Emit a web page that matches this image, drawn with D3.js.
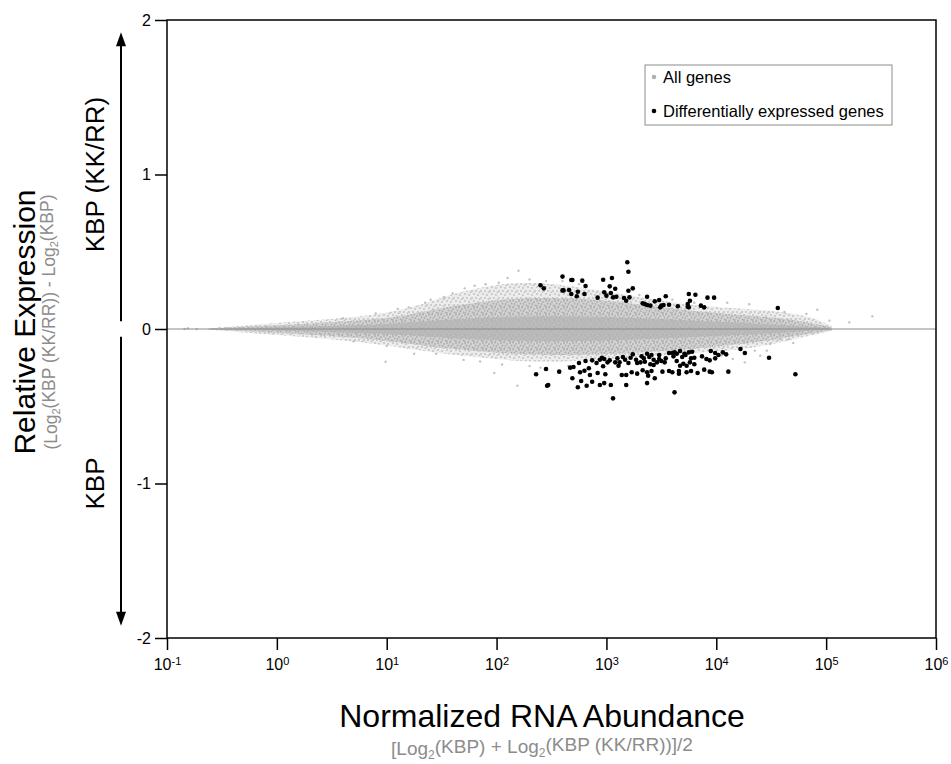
<!DOCTYPE html>
<html>
<head>
<meta charset="utf-8">
<script src="https://cdn.jsdelivr.net/npm/d3@7"></script>
<style>
  body { margin: 0; background: #fff; }
  svg { display: block; font-family: "Liberation Sans", Arial, sans-serif; }
</style>
</head>
<body>
<script>
// ---- data (x values are log10 of normalized abundance) ----
const xTickExp = [-1, 0, 1, 2, 3, 4, 5, 6];
const yTicks = [-2, -1, 0, 1, 2];

// outline of the grey "all genes" cloud
const cloudLog   = [-0.62, -0.34, 0.30, 0.76, 1.03, 1.30, 1.53, 1.85, 2.12, 2.49, 3.03, 3.49, 3.94, 4.40, 4.85, 5.05];
const outerTop   = [0.004, 0.020, 0.054, 0.082, 0.108, 0.151, 0.216, 0.270, 0.300, 0.300, 0.238, 0.183, 0.140, 0.129, 0.086, 0.020];
const outerBot   = [-0.004, -0.021, -0.054, -0.086, -0.108, -0.140, -0.162, -0.183, -0.205, -0.216, -0.194, -0.173, -0.151, -0.119, -0.043, -0.010];
const coreTop    = [0.003, 0.012, 0.035, 0.055, 0.072, 0.105, 0.140, 0.175, 0.195, 0.205, 0.185, 0.140, 0.105, 0.085, 0.045, 0.010];
const coreBot    = [-0.003, -0.012, -0.035, -0.058, -0.078, -0.105, -0.125, -0.145, -0.160, -0.170, -0.165, -0.145, -0.120, -0.085, -0.030, -0.010];
const innerTop   = [0.001, 0.006, 0.016, 0.026, 0.034, 0.046, 0.060, 0.072, 0.080, 0.085, 0.080, 0.065, 0.048, 0.036, 0.014, 0.002];
const innerBot   = [-0.001, -0.006, -0.016, -0.026, -0.034, -0.046, -0.058, -0.068, -0.076, -0.080, -0.076, -0.062, -0.046, -0.034, -0.012, -0.002];

// scattered grey genes around the dense cloud
const grayLog = [-0.84, -0.81, -0.73, -0.52, -0.47, -0.43, 0.99, 1.52, 1.71, 1.98, 2.20, 2.19, 4.15, 4.26, 4.40, 4.46, 4.49, 4.58, 4.66, 4.76, 4.82, 4.92, 5.03, 5.21, 5.42,
                 1.80, 2.02, 2.30, 2.45, 1.40, 1.10, 1.25, 1.70, 2.30, 4.10, 4.30, 4.62,
                 0.60, 0.90, 1.20, 1.35, 1.60, 1.90, 2.10, 2.60, 2.75, 3.30, 3.60, 3.80,
                 0.70, 1.00, 1.45, 1.85, 2.05, 2.40, 2.65, 4.05, 4.35, 4.70];
const grayRel = [0.0, 0.005, 0.0, 0.005, 0.006, 0.004, -0.212, 0.207, 0.263, -0.285, 0.377, -0.367, -0.194, -0.216, -0.173, -0.140, -0.097, -0.065, -0.065, 0.021, 0.097, 0.125, 0.054, 0.043, 0.082,
                 0.280, 0.300, 0.320, 0.310, 0.190, 0.130, -0.160, -0.200, -0.240, 0.170, 0.160, 0.110,
                 0.070, 0.100, 0.140, 0.170, 0.230, 0.290, 0.330, 0.310, 0.290, 0.220, 0.190, 0.170,
                 -0.080, -0.110, -0.160, -0.210, -0.230, -0.250, -0.240, -0.170, -0.140, -0.090];

// differentially expressed genes, up
const upLog = [3.19, 3.20, 2.60, 2.68, 2.69, 2.78, 2.81, 2.97, 3.05, 2.40,
               2.43, 2.60, 2.61, 2.66, 2.68, 2.74, 2.73, 2.80, 2.92, 2.98,
               3.00, 3.03, 3.04, 3.08, 3.06, 3.09, 3.20, 3.24, 3.16, 3.18,
               3.21, 3.37, 3.33, 3.35, 3.37, 3.40, 3.44, 3.48, 3.54, 3.50,
               3.49, 3.52, 3.57, 3.65, 3.75, 3.81, 3.76, 3.74, 3.74, 3.75,
               3.86, 3.89, 3.92, 3.98, 4.56];
const upRel = [0.432, 0.371, 0.339, 0.317, 0.317, 0.313, 0.278, 0.319, 0.330, 0.283,
               0.263, 0.250, 0.250, 0.252, 0.227, 0.241, 0.212, 0.227, 0.203, 0.238,
               0.216, 0.276, 0.233, 0.261, 0.205, 0.209, 0.248, 0.263, 0.201, 0.183,
               0.205, 0.209, 0.166, 0.162, 0.155, 0.151, 0.179, 0.188, 0.212, 0.151,
               0.140, 0.155, 0.157, 0.147, 0.227, 0.222, 0.183, 0.162, 0.144, 0.140,
               0.151, 0.140, 0.203, 0.203, 0.136];

// differentially expressed genes, down
const downLog = [2.36, 2.45, 2.46, 2.47, 2.57, 2.67, 2.70, 2.69, 2.75, 2.76,
                 2.77, 2.74, 2.80, 2.84, 2.85, 2.82, 2.87, 2.81, 2.87, 2.91,
                 2.94, 2.92, 2.96, 2.98, 3.01, 3.03, 2.97, 2.94, 2.98, 3.04,
                 2.99, 3.06, 3.08, 3.10, 3.12, 3.15, 3.17, 3.11, 3.20, 3.22,
                 3.24, 3.27, 3.28, 3.14, 3.18, 3.18, 3.23, 3.28, 3.32, 3.34,
                 3.31, 3.35, 3.37, 3.39, 3.41, 3.43, 3.40, 3.43, 3.46, 3.48,
                 3.48, 3.50, 3.53, 3.54, 3.57, 3.60, 3.62, 3.61, 3.64, 3.67,
                 3.71, 3.69, 3.72, 3.75, 3.78, 3.77, 3.80, 3.76, 3.70, 3.67,
                 3.64, 3.73, 3.80, 3.87, 3.91, 3.95, 3.99, 4.02, 4.06, 4.09,
                 3.99, 3.94, 4.22, 4.26, 4.48, 3.33, 3.37, 3.41, 3.38, 3.44,
                 3.37, 3.51, 3.57, 3.60, 3.66, 3.66, 3.73, 3.77, 3.83, 3.89,
                 3.94, 3.96, 4.11, 3.62, 4.72];
const downRel = [-0.293, -0.259, -0.367, -0.362, -0.276, -0.250, -0.246, -0.319, -0.220, -0.280,
                 -0.337, -0.377, -0.270, -0.254, -0.298, -0.367, -0.341, -0.207, -0.203, -0.220,
                 -0.199, -0.285, -0.186, -0.194, -0.216, -0.203, -0.241, -0.362, -0.350, -0.362,
                 -0.293, -0.449, -0.216, -0.190, -0.216, -0.181, -0.199, -0.238, -0.220, -0.186,
                 -0.164, -0.199, -0.220, -0.298, -0.298, -0.362, -0.280, -0.289, -0.177, -0.190,
                 -0.216, -0.212, -0.160, -0.181, -0.168, -0.199, -0.228, -0.233, -0.216, -0.168,
                 -0.194, -0.207, -0.216, -0.190, -0.155, -0.155, -0.151, -0.177, -0.160, -0.142,
                 -0.160, -0.181, -0.168, -0.151, -0.147, -0.190, -0.186, -0.216, -0.225, -0.238,
                 -0.207, -0.238, -0.228, -0.177, -0.194, -0.142, -0.155, -0.168, -0.151, -0.164,
                 -0.190, -0.203, -0.129, -0.155, -0.186, -0.267, -0.280, -0.272, -0.302, -0.319,
                 -0.350, -0.276, -0.272, -0.280, -0.272, -0.289, -0.280, -0.272, -0.285, -0.263,
                 -0.276, -0.280, -0.276, -0.410, -0.293];

const legendItems = ["All genes", "Differentially expressed genes"];

// ---- layout ----
var margin = { top: 20, right: 15, bottom: 126, left: 167 },
    width = 951 - margin.left - margin.right,
    height = 764 - margin.top - margin.bottom;

var svgRoot = d3.select("body").append("svg")
    .attr("width", 951)
    .attr("height", 764);

// speckle textures for the grey cloud
var defs = svgRoot.append("defs");
function speckle(id, bg, dot, spots) {
    const p = defs.append("pattern").attr("id", id)
        .attr("patternUnits", "userSpaceOnUse")
        .attr("width", 9).attr("height", 7);
    if (bg) p.append("rect").attr("width", 9).attr("height", 7).attr("fill", bg);
    spots.forEach(s => p.append("circle").attr("cx", s[0]).attr("cy", s[1]).attr("r", 0.9).attr("fill", dot));
}
speckle("speckLight", null, "#bdbdbd", [[1, 1], [5, 2], [8, 5], [3, 5], [6.5, 6.5]]);
speckle("speckDense", "#d3d3d3", "#acacac", [[1, 1], [4, 0.5], [7, 2], [2.5, 3.5], [5.5, 4], [8.5, 5.5], [1, 6], [4.5, 6.5]]);

var svg = svgRoot.append("g")
    .attr("transform", "translate(" + margin.left + "," + margin.top + ")");

// scales
var x = d3.scaleLog().domain([0.1, 1e6]).range([0, width]);
var y = d3.scaleLinear().domain([-2, 2]).range([height, 0]);
const ax = v => x(Math.pow(10, v));

// clip to plot
svg.append("clipPath").attr("id", "plotClip")
    .append("rect").attr("width", width).attr("height", height);
var plot = svg.append("g").attr("clip-path", "url(#plotClip)");

// grey cloud as stacked envelopes
function band(top, bot, fill, op) {
    const rows = cloudLog.map((v, i) => ({ lx: v, t: top[i], b: bot[i] }));
    plot.append("path")
        .datum(rows)
        .attr("fill", fill)
        .attr("opacity", op)
        .attr("d", d3.area()
            .curve(d3.curveBasis)
            .x(d => ax(d.lx))
            .y0(d => y(d.b))
            .y1(d => y(d.t)));
}
band(outerTop, outerBot, "#ececec", 1);
band(outerTop, outerBot, "url(#speckLight)", 1);
band(coreTop, coreBot, "url(#speckDense)", 1);
band(innerTop, innerBot, "#b4b4b4", 0.75);

// scattered grey points
plot.selectAll(".gray")
    .data(grayLog.map((v, i) => ({ lx: v, r: grayRel[i] })))
    .enter().append("circle")
    .attr("cx", d => ax(d.lx))
    .attr("cy", d => y(d.r))
    .attr("r", 1.2)
    .attr("fill", "#c2c2c2");

// zero line
plot.append("line")
    .attr("x1", 0).attr("x2", width)
    .attr("y1", y(0)).attr("y2", y(0))
    .attr("stroke", "#8a8a8a")
    .attr("stroke-width", 1);

// differentially expressed genes
const deRows = upLog.map((v, i) => ({ lx: v, r: upRel[i] }))
    .concat(downLog.map((v, i) => ({ lx: v, r: downRel[i] })));
plot.selectAll(".de")
    .data(deRows)
    .enter().append("circle")
    .attr("cx", d => ax(d.lx))
    .attr("cy", d => y(d.r))
    .attr("r", 2.3)
    .attr("fill", "#000");

// frame
svg.append("rect")
    .attr("width", width).attr("height", height)
    .attr("fill", "none")
    .attr("stroke", "#000")
    .attr("stroke-width", 1.5);

// X axis
var gx = svg.append("g")
    .attr("transform", "translate(0," + height + ")")
    .call(d3.axisBottom(x)
        .tickValues(xTickExp.map(e => Math.pow(10, e)))
        .tickSize(12).tickSizeOuter(0).tickPadding(9)
        .tickFormat(() => ""));
gx.select(".domain").remove();
gx.selectAll(".tick line").attr("stroke-width", 1.5);
gx.selectAll(".tick text")
    .style("font-size", "16px")
    .attr("fill", "#000")
    .each(function(d, i) {
        const t = d3.select(this);
        t.append("tspan").text("10");
        t.append("tspan").attr("dy", "-0.45em").style("font-size", "11px").text(xTickExp[i]);
    });

// Y axis
var gy = svg.append("g")
    .call(d3.axisLeft(y)
        .tickValues(yTicks)
        .tickSize(12).tickSizeOuter(0).tickPadding(4)
        .tickFormat(d => String(d)));
gy.select(".domain").remove();
gy.selectAll(".tick line").attr("stroke-width", 1.5);
gy.selectAll(".tick text").style("font-size", "16px").attr("fill", "#000");

// direction arrows at left
const arrowX = -46;
const arrowTipUp = 1.92, arrowTipDown = -1.92, gapHalf = 0.05;
function arrow(fromV, toV) {
    const y0 = y(fromV), y1 = y(toV);
    const dir = y1 < y0 ? -1 : 1;
    svg.append("line")
        .attr("x1", arrowX).attr("x2", arrowX)
        .attr("y1", y0).attr("y2", y1 - dir * 10)
        .attr("stroke", "#000").attr("stroke-width", 2);
    svg.append("path")
        .attr("d", `M${arrowX},${y1} L${arrowX - 5},${y1 - dir * 14} L${arrowX + 5},${y1 - dir * 14} Z`)
        .attr("fill", "#000");
}
arrow(gapHalf, arrowTipUp);
arrow(-gapHalf, arrowTipDown);

svg.append("text")
    .attr("transform", `translate(${arrowX - 17},${y(1)}) rotate(-90)`)
    .attr("text-anchor", "middle")
    .style("font-size", "26px")
    .text("KBP (KK/RR)");
svg.append("text")
    .attr("transform", `translate(${arrowX - 17},${y(-1)}) rotate(-90)`)
    .attr("text-anchor", "middle")
    .style("font-size", "26px")
    .text("KBP");

// Y title
svg.append("text")
    .attr("transform", `translate(${35 - margin.left},${322 - margin.top}) rotate(-90)`)
    .attr("text-anchor", "middle")
    .style("font-size", "30px")
    .text("Relative Expression");
var ysub = svg.append("text")
    .attr("transform", `translate(${57 - margin.left},${322 - margin.top}) rotate(-90)`)
    .attr("text-anchor", "middle")
    .attr("fill", "#8c8c8c")
    .style("font-size", "17.5px");
ysub.append("tspan").text("(Log");
ysub.append("tspan").attr("dy", "0.3em").style("font-size", "11px").text("2");
ysub.append("tspan").attr("dy", "-0.3em").text("(KBP (KK/RR)) - Log");
ysub.append("tspan").attr("dy", "0.3em").style("font-size", "11px").text("2");
ysub.append("tspan").attr("dy", "-0.3em").text("(KBP)");

// X title
svg.append("text")
    .attr("x", 542 - margin.left)
    .attr("y", 727 - margin.top)
    .attr("text-anchor", "middle")
    .style("font-size", "32px")
    .text("Normalized RNA Abundance");
var xsub = svg.append("text")
    .attr("x", 542 - margin.left)
    .attr("y", 755 - margin.top)
    .attr("text-anchor", "middle")
    .attr("fill", "#8c8c8c")
    .style("font-size", "19px");
xsub.append("tspan").text("[Log");
xsub.append("tspan").attr("dy", "0.3em").style("font-size", "12px").text("2");
xsub.append("tspan").attr("dy", "-0.3em").text("(KBP) + Log");
xsub.append("tspan").attr("dy", "0.3em").style("font-size", "12px").text("2");
xsub.append("tspan").attr("dy", "-0.3em").text("(KBP (KK/RR))]/2");

// legend
var lg = svg.append("g").attr("transform", `translate(${645 - margin.left},${65 - margin.top})`);
lg.append("rect")
    .attr("width", 247).attr("height", 60)
    .attr("fill", "#fff")
    .attr("stroke", "#8c8c8c")
    .attr("stroke-width", 1);
lg.selectAll(".item")
    .data(legendItems)
    .enter().append("g")
    .attr("transform", (d, i) => `translate(0,${i === 0 ? 18 : 52})`)
    .each(function(d, i) {
        const g = d3.select(this);
        g.append("circle").attr("cx", 9).attr("cy", -6).attr("r", 2.3)
            .attr("fill", i === 0 ? "#b0b0b0" : "#000");
        g.append("text").attr("x", 18).attr("y", 0)
            .style("font-size", "16.5px").text(d);
    });
</script>
</body>
</html>
